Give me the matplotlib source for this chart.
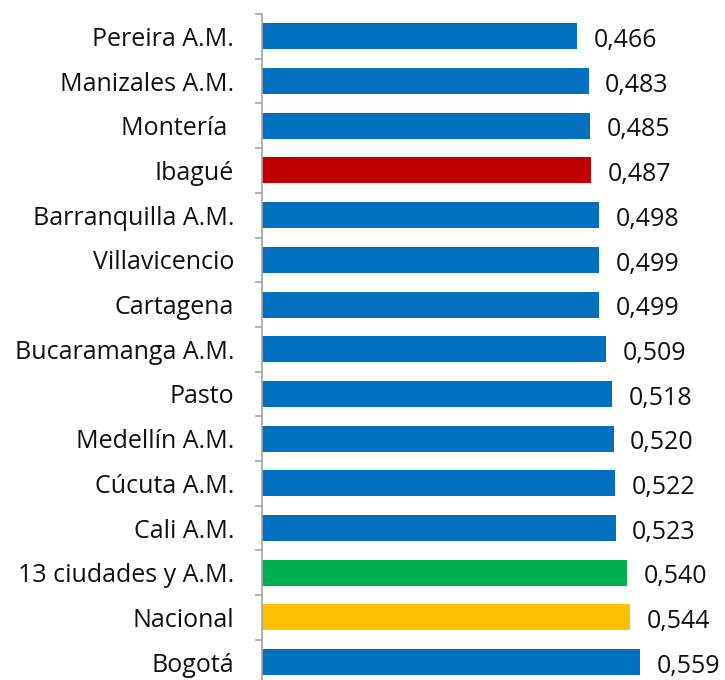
import matplotlib
matplotlib.use("Agg")
import matplotlib.pyplot as plt
import numpy as np

categories = ["Pereira A.M.", "Manizales A.M.", "Montería ", "Ibagué", "Barranquilla A.M.",
              "Villavicencio", "Cartagena", "Bucaramanga A.M.", "Pasto", "Medellín A.M.",
              "Cúcuta A.M.", "Cali A.M.", "13 ciudades y A.M.", "Nacional", "Bogotá"]
values = [0.466, 0.483, 0.485, 0.487, 0.498, 0.499, 0.499, 0.509, 0.518, 0.520,
          0.522, 0.523, 0.540, 0.544, 0.559]
labels = ["0,466", "0,483", "0,485", "0,487", "0,498", "0,499", "0,499", "0,509",
          "0,518", "0,520", "0,522", "0,523", "0,540", "0,544", "0,559"]

BLUE, RED, GREEN, YELLOW = "#0070C0", "#C00000", "#00B050", "#FFC000"
colors = [BLUE] * len(categories)
colors[categories.index("Ibagué")] = RED
colors[categories.index("13 ciudades y A.M.")] = GREEN
colors[categories.index("Nacional")] = YELLOW

plt.rcParams['font.family'] = ['Open Sans', 'DejaVu Sans']

fig = plt.figure(figsize=(7.25, 6.8), dpi=100)
ax = fig.add_axes([262/725, -4.5/680, 463/725, 670.5/680])

y = np.arange(len(categories))
ax.barh(y, values, height=0.58, color=colors)
ax.set_ylim(len(categories) - 0.5, -0.5)
ax.set_xlim(0, 463/676)

for yi, v, lab in zip(y, values, labels):
    ax.annotate(lab, (v, yi), xytext=(12, -3), textcoords="offset points",
                ha="left", va="center", fontsize=18, color="#111111")

ax.set_yticks(y)
ax.set_yticklabels(categories, fontsize=18, color="#111111")
ax.tick_params(axis="y", which="major", length=0, pad=20)
ax.set_yticks(np.arange(-0.5, len(categories), 1), minor=True)
ax.tick_params(axis="y", which="minor", length=5, width=1.2, color="#A6A6A6")
ax.set_xticks([])
for s in ["top", "right", "bottom"]:
    ax.spines[s].set_visible(False)
ax.spines["left"].set_color("#A6A6A6")
ax.spines["left"].set_linewidth(1.2)

fig.savefig("out.png", dpi=100)
